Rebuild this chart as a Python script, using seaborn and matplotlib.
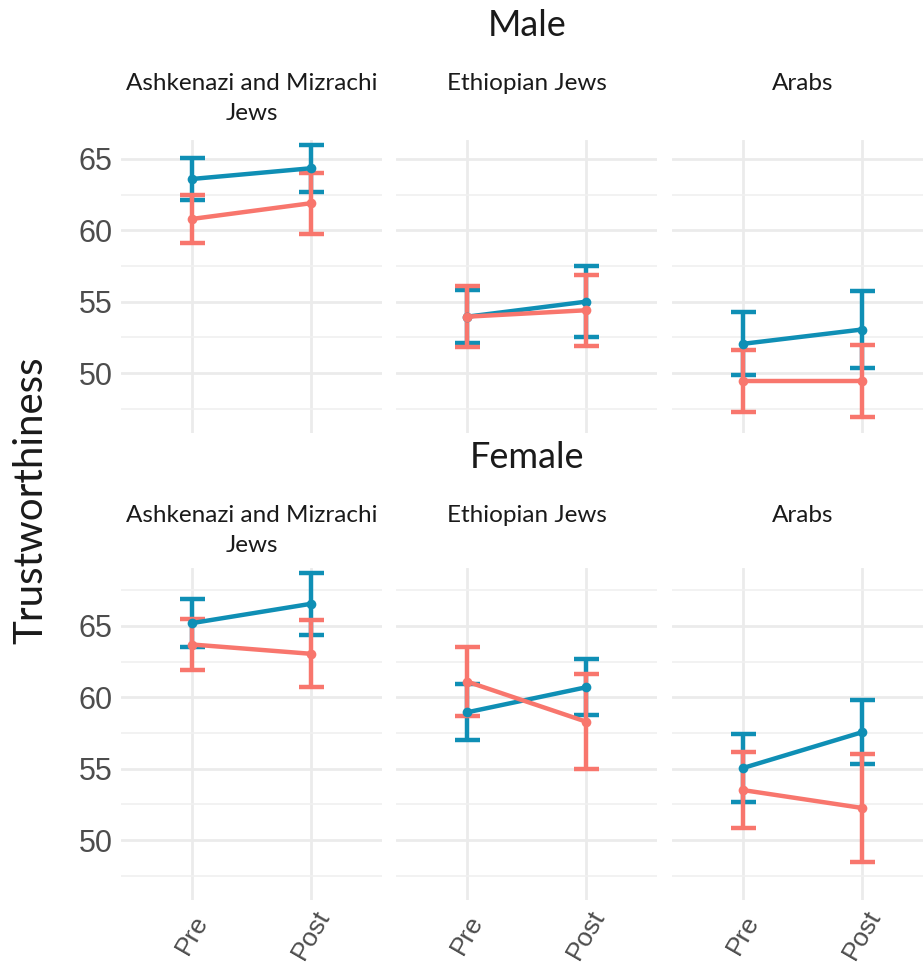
import pandas as pd
import matplotlib
matplotlib.use("Agg")
import matplotlib.pyplot as plt
import seaborn as sns
from matplotlib.ticker import MultipleLocator

times = ["Pre", "Post"]
groups = ["Ashkenazi and Mizrachi\nJews", "Ethiopian Jews", "Arabs"]
genders = ["Male", "Female"]
conditions = ["Intervention", "Control"]

# values ordered group by group, Pre then Post
male_blue_mean = [63.6, 64.35, 53.95, 55.0, 52.05, 53.05]
male_blue_err = [1.45, 1.65, 1.85, 2.5, 2.2, 2.7]
male_red_mean = [60.8, 61.9, 53.95, 54.4, 49.45, 49.45]
male_red_err = [1.7, 2.15, 2.15, 2.5, 2.2, 2.55]
female_blue_mean = [65.2, 66.55, 58.95, 60.7, 55.05, 57.55]
female_blue_err = [1.7, 2.15, 1.95, 1.95, 2.4, 2.25]
female_red_mean = [63.7, 63.05, 61.1, 58.3, 53.5, 52.25]
female_red_err = [1.8, 2.35, 2.4, 3.35, 2.65, 3.8]

series = {
    ("Male", "Intervention"): (male_blue_mean, male_blue_err),
    ("Male", "Control"): (male_red_mean, male_red_err),
    ("Female", "Intervention"): (female_blue_mean, female_blue_err),
    ("Female", "Control"): (female_red_mean, female_red_err),
}

rows = []
for (gender, cond), (means, errs) in series.items():
    i = 0
    for g in groups:
        for t in times:
            rows.append([gender, cond, g, t, means[i], errs[i]])
            i += 1
df = pd.DataFrame(rows, columns=["Gender", "Condition", "Group", "Time", "Trust", "Err"])

palette = {"Intervention": "#0F8FB5", "Control": "#F8766D"}

sns.set_theme(style="white")
plt.rcParams["font.family"] = ["Lato", "DejaVu Sans"]

fig = plt.figure(figsize=(9.23, 9.64), dpi=100)

lefts = [121 / 923, 396 / 923, 672 / 923]
width = 261 / 923
bottoms = {"Male": 1 - 433 / 964, "Female": 1 - 900 / 964}
heights = {"Male": 293 / 964, "Female": 332 / 964}
ylims = {"Male": (45.8, 66.33), "Female": (45.8, 69.06)}
strip_off = {"Male": 48, "Female": 45}
tick_font = ["Liberation Sans Narrow", "Liberation Sans", "DejaVu Sans"]

for gender in genders:
    for c, g in enumerate(groups):
        ax = fig.add_axes([lefts[c], bottoms[gender], width, heights[gender]])
        sub = df[(df.Gender == gender) & (df.Group == g)]
        for cond in conditions:
            d = sub[sub.Condition == cond]
            xpos = d["Time"].map({t: i for i, t in enumerate(times)})
            ax.errorbar(xpos, d["Trust"], yerr=d["Err"], fmt="none",
                        ecolor=palette[cond], elinewidth=3.2, capsize=9,
                        capthick=3.2, zorder=3)
            sns.lineplot(data=d, x="Time", y="Trust", color=palette[cond],
                         lw=3.2, marker="o", markersize=7, markeredgewidth=0,
                         sort=False, ax=ax, zorder=4)
        ax.set_xlim(-0.6, 1.6)
        ax.set_ylim(*ylims[gender])
        ax.yaxis.set_major_locator(MultipleLocator(5))
        ax.yaxis.set_minor_locator(MultipleLocator(2.5))
        ax.grid(which="major", color="#EBEBEB", lw=2)
        ax.grid(which="minor", axis="y", color="#F0F0F0", lw=1.2)
        ax.set_axisbelow(True)
        for s in ax.spines.values():
            s.set_visible(False)
        ax.tick_params(which="both", length=0)
        ax.set_xlabel("")
        ax.set_ylabel("")
        if c == 0:
            ax.set_yticks([50, 55, 60, 65])
            for lab in ax.get_yticklabels():
                lab.set_family(tick_font)
                lab.set_fontsize(22)
                lab.set_color("#4D4D4D")
            ax.tick_params(axis="y", pad=6)
        else:
            ax.set_yticklabels([])
        if gender == "Female":
            ax.set_xticks(range(len(times)))
            ax.set_xticklabels(times, rotation=60, ha="center", va="center",
                               rotation_mode="anchor", family=tick_font,
                               fontsize=19, color="#4D4D4D")
            ax.tick_params(axis="x", pad=25)
        else:
            ax.set_xticklabels([])
        ax.annotate(g, xy=(0.5, 1), xycoords="axes fraction",
                    xytext=(0, strip_off[gender]), textcoords="offset points",
                    ha="center", va="top", fontsize=17.5, color="#1A1A1A",
                    linespacing=1.5)

fig.text(527 / 923, 1 - 25 / 964, "Male", ha="center", va="center",
         fontsize=26, color="#1A1A1A")
fig.text(527 / 923, 1 - 457 / 964, "Female", ha="center", va="center",
         fontsize=26, color="#1A1A1A")
fig.text(31 / 923, 1 - 500 / 964, "Trustworthiness", rotation=90,
         ha="center", va="center", fontsize=29, color="#1A1A1A")

fig.savefig("out.png", dpi=100)
